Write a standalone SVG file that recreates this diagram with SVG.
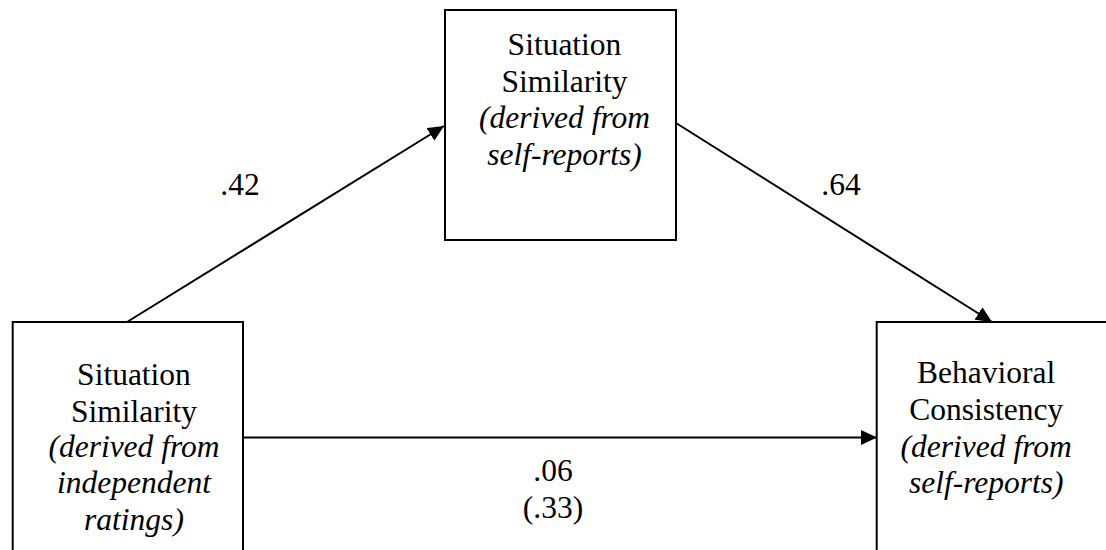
<svg xmlns="http://www.w3.org/2000/svg" width="1106" height="550" viewBox="0 0 1106 550">
<style>
.box{fill:#fff;stroke:#000;stroke-width:2}
.t{font-family:"Liberation Serif","Times New Roman",serif;font-size:31.5px;fill:#000;text-anchor:middle}
.i{font-style:italic}
.c{stroke:#000;stroke-width:2;fill:none}
</style>
<defs>
<marker id="ah" markerUnits="userSpaceOnUse" markerWidth="18" markerHeight="16" refX="16" refY="7.5" orient="auto">
<polygon points="0,0 16,7.5 0,15" fill="#000"/>
</marker>
</defs>
<rect width="1106" height="550" fill="#fff"/>
<g id="connectors">
<line class="c" x1="127" y1="322" x2="444" y2="126" marker-end="url(#ah)"/>
<line class="c" x1="676" y1="123" x2="992" y2="322" marker-end="url(#ah)"/>
<line class="c" x1="243" y1="437.5" x2="877" y2="437.5" marker-end="url(#ah)"/>
<text class="t" x="240" y="195">.42</text>
<text class="t" x="841" y="195">.64</text>
<text class="t" x="553" y="481">.06</text>
<text class="t" x="553" y="518">(.33)</text>
</g>
<g id="node-top">
<rect class="box" x="445" y="10" width="231" height="230"/>
<text class="t" x="564.5" y="55">Situation</text>
<text class="t" x="564.5" y="91.7">Similarity</text>
<text class="t i" x="564.5" y="128.3">(derived from</text>
<text class="t i" x="564.5" y="165">self-reports)</text>
</g>
<g id="node-left">
<rect class="box" x="12.7" y="322" width="230.3" height="240"/>
<text class="t" x="134" y="385">Situation</text>
<text class="t" x="134" y="421.7">Similarity</text>
<text class="t i" x="134" y="456.7">(derived from</text>
<text class="t i" x="134" y="493.3">independent</text>
<text class="t i" x="134" y="530">ratings)</text>
</g>
<g id="node-right">
<rect class="box" x="876.7" y="322" width="240" height="240"/>
<text class="t" x="986.2" y="383.3">Behavioral</text>
<text class="t" x="986.2" y="420">Consistency</text>
<text class="t i" x="986.2" y="456.7">(derived from</text>
<text class="t i" x="986.2" y="493.3">self-reports)</text>
</g>
</svg>
